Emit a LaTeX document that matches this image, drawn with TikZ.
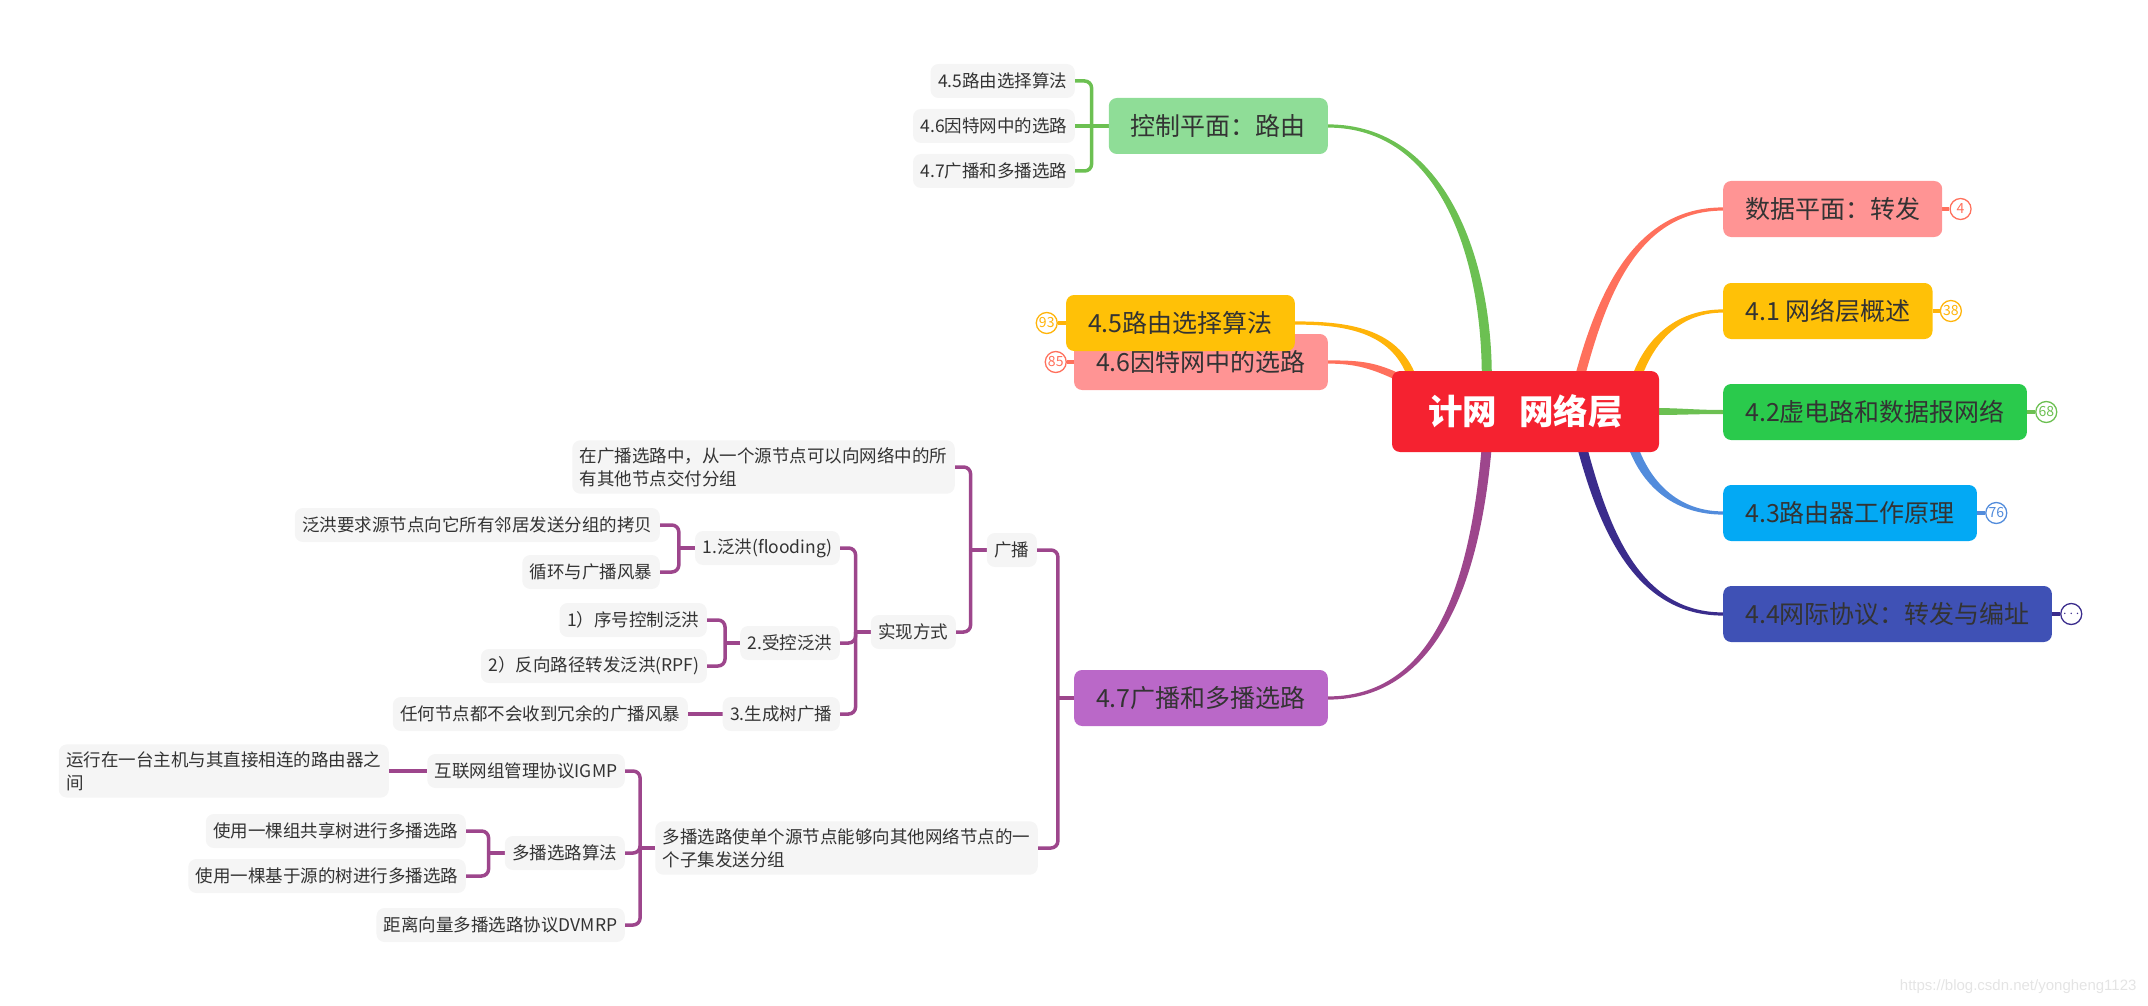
\documentclass[tikz,border=0pt]{standalone}
\usepackage{fontspec}
\setmainfont{Noto Sans CJK SC}
\newfontfamily\wmfont{Liberation Sans}
\usetikzlibrary{positioning,calc}
\pgfdeclarelayer{bg}
\pgfsetlayers{bg,main}
\definecolor{hubred}{RGB}{245,34,48}
\definecolor{pinkfill}{RGB}{255,148,148}
\definecolor{amberfill}{RGB}{255,193,7}
\definecolor{grnfill}{RGB}{42,202,76}
\definecolor{skyfill}{RGB}{3,169,244}
\definecolor{indfill}{RGB}{63,81,181}
\definecolor{ctrlfill}{RGB}{143,221,151}
\definecolor{purfill}{RGB}{186,104,200}
\definecolor{subfill}{RGB}{245,245,245}
\definecolor{txt}{RGB}{51,51,51}
\definecolor{lsalmon}{RGB}{255,112,92}
\definecolor{lamber}{RGB}{255,180,10}
\definecolor{lgreen}{RGB}{108,192,82}
\definecolor{lblue}{RGB}{82,140,220}
\definecolor{lindigo}{RGB}{58,44,140}
\definecolor{lpurple}{RGB}{157,70,140}
\definecolor{wm}{RGB}{228,228,228}
\tikzset{x=1pt,y=1pt,
hub/.style={fill=hubred,rounded corners=8pt,minimum width=267pt,minimum height=81pt,
  text=white,font=\fontsize{34.5}{40}\selectfont\bfseries},
topic/.style={rounded corners=8pt,minimum height=56pt,inner xsep=22pt,text=txt,
  font=\fontsize{25}{30}\selectfont},
sub/.style={fill=subfill,rounded corners=8pt,minimum height=34pt,inner xsep=7.5pt,
  inner ysep=7pt,text=txt,align=left,font=\fontsize{17.5}{23}\selectfont},
badge/.style={circle,draw=#1,text=#1,fill=white,line width=1.3pt,minimum size=21pt,
  inner sep=0pt,font=\fontsize{14}{14}\selectfont},
stub/.style={line width=3.5pt},
brk/.style={line width=3.5pt,rounded corners=7pt},
ctl/.style={brk,draw=lgreen},
tree/.style={brk,draw=lpurple},
}
% tapered branch: colour, start, end, out, in, start offset, end offset
\newcommand\branch[7]{%
  \fill[#1] ($(#2)+(#6)$) to[out=#4,in=#5] ($(#3)+(#7)$)
    -- ($(#3)-(#7)$) to[out=#5,in=#4] ($(#2)-(#6)$) -- cycle;}

\begin{document}
\begin{tikzpicture}
\useasboundingbox (0,0) rectangle (2148,-1006);

% right side
\node[topic,fill=pinkfill,anchor=west] (data) at (1723,-209) {数据平面：转发};
\node[topic,fill=amberfill,anchor=west] (t41) at (1723,-311) {4.1 网络层概述};
\node[topic,fill=grnfill,anchor=west] (t42) at (1723,-412) {4.2虚电路和数据报网络};
\node[topic,fill=skyfill,anchor=west] (t43) at (1723,-513) {4.3路由器工作原理};
\node[topic,fill=indfill,anchor=west] (t44) at (1723,-614) {4.4网际协议：转发与编址};

\node[badge=lsalmon,right=7pt of data] (b4) {4};
\node[badge=lamber,right=7pt of t41] (b38) {38};
\node[badge=lgreen,right=8pt of t42] (b68) {68};
\node[badge=lblue,right=8pt of t43] (b76) {76};
\node[badge=lindigo,right=8pt of t44] (bmore) {$\cdots$};

% left side
\node[topic,fill=ctrlfill,anchor=east] (ctrl) at (1328,-126) {控制平面：路由};
\node[topic,fill=pinkfill,anchor=east] (t46) at (1328,-362) {4.6因特网中的选路};
\node[topic,fill=amberfill,anchor=east] (t45) at (1295,-323) {4.5路由选择算法};
\node[topic,fill=purfill,anchor=east] (t47) at (1328,-698) {4.7广播和多播选路};

\node[badge=lamber,left=8pt of t45] (b93) {93};
\node[badge=lsalmon,left=7pt of t46] (b85) {85};

\node[sub,anchor=east] (c1) at (1075,-81) {4.5路由选择算法};
\node[sub,anchor=east] (c2) at (1075,-126) {4.6因特网中的选路};
\node[sub,anchor=east] (c3) at (1075,-171) {4.7广播和多播选路};

% broadcast / multicast tree
\node[sub,anchor=east] (bc) at (1037,-550) {广播};
\node[sub,anchor=east] (mc) at (1038,-848) {多播选路使单个源节点能够向其他网络节点的一\\个子集发送分组};
\node[sub,anchor=east] (bd) at (955,-467) {在广播选路中，从一个源节点可以向网络中的所\\有其他节点交付分组};
\node[sub,anchor=east] (im) at (956,-632) {实现方式};
\node[sub,anchor=east] (f1) at (840,-548) {1.泛洪(flooding)};
\node[sub,anchor=east] (f2) at (840,-643) {2.受控泛洪};
\node[sub,anchor=east] (f3) at (840,-714) {3.生成树广播};
\node[sub,anchor=east] (fa) at (660,-525) {泛洪要求源节点向它所有邻居发送分组的拷贝};
\node[sub,anchor=east] (fb) at (660,-572) {循环与广播风暴};
\node[sub,anchor=east] (ca) at (707,-620) {1）序号控制泛洪};
\node[sub,anchor=east] (cb) at (707,-666) {2）反向路径转发泛洪(RPF)};
\node[sub,anchor=east] (sa) at (688,-714) {任何节点都不会收到冗余的广播风暴};
\node[sub,anchor=east] (mg) at (625,-771) {互联网组管理协议IGMP};
\node[sub,anchor=east] (ma) at (625,-853) {多播选路算法};
\node[sub,anchor=east] (md) at (625,-925) {距离向量多播选路协议DVMRP};
\node[sub,anchor=east] (mr) at (389,-771) {运行在一台主机与其直接相连的路由器之\\间};
\node[sub,anchor=east] (mu) at (466,-831) {使用一棵组共享树进行多播选路};
\node[sub,anchor=east] (mv) at (466,-876) {使用一棵基于源的树进行多播选路};

\node[hub] (hub) at (1525.5,-411.5) {计网\hspace{0.65em}网络层};

\node[font=\wmfont\fontsize{15}{15}\selectfont,text=wm,anchor=east] (mark) at (2140,-987)
  {https://blog.csdn.net/yongheng1123};

\begin{pgfonlayer}{bg}
% main branches
\branch{lgreen}{$(hub.north west)+(95,-6)$}{ctrl.east}{90}{0}{-5,0}{0,-1.6}
\branch{lamber}{$(hub.north west)+(20,-6)$}{t45.east}{110}{0}{-4.5,0}{0,-1.6}
\branch{lsalmon}{$(hub.north west)+(6,-6)$}{t46.east}{155}{0}{0,-4}{0,-1.6}
\branch{lsalmon}{$(hub.north west)+(188,-6)$}{data.west}{75}{180}{-5,0}{0,1.6}
\branch{lamber}{$(hub.north west)+(245,-6)$}{t41.west}{70}{180}{-5,0}{0,1.6}
\branch{lgreen}{$(hub.east)+(-6,0)$}{t42.west}{0}{180}{0,3.5}{0,2}
\branch{lblue}{$(hub.south west)+(241,6)$}{t43.west}{-70}{180}{5,0}{0,1.6}
\branch{lindigo}{$(hub.south west)+(190,6)$}{t44.west}{-75}{180}{5,0}{0,1.6}
\branch{lpurple}{$(hub.south west)+(95,6)$}{t47.east}{-95}{0}{5,0}{0,-1.6}

% badges
\draw[stub,lsalmon] (data.east) -- (b4.west);
\draw[stub,lamber] (t41.east) -- (b38.west);
\draw[stub,lgreen] (t42.east) -- (b68.west);
\draw[stub,lblue] (t43.east) -- (b76.west);
\draw[stub,lindigo] (t44.east) -- (bmore.west);
\draw[stub,lamber] (t45.west) -- (b93.east);
\draw[stub,lsalmon] (t46.west) -- (b85.east);

% brackets
\draw[ctl] (ctrl.west) -- ++(-17,0) coordinate (jc);
\draw[ctl] (jc) |- (c1.east);
\draw[ctl] (jc) |- (c3.east);
\draw[ctl] (jc) -- (c2.east);

\draw[tree] (t47.west) -- ++(-16,0) coordinate (j47);
\draw[tree] (j47) |- (bc.east);
\draw[tree] (j47) |- (mc.east);

\draw[tree] (bc.west) -- ++(-16,0) coordinate (jb);
\draw[tree] (jb) |- (bd.east);
\draw[tree] (jb) |- (im.east);

\draw[tree] (im.west) -- ++(-15,0) coordinate (ji);
\draw[tree] (ji) |- (f1.east);
\draw[tree] (ji) |- (f2.east);
\draw[tree] (ji) |- (f3.east);

\draw[tree] (f1.west) -- ++(-16,0) coordinate (jf);
\draw[tree] (jf) |- (fa.east);
\draw[tree] (jf) |- (fb.east);

\draw[tree] (f2.west) -- ++(-15,0) coordinate (jk);
\draw[tree] (jk) |- (ca.east);
\draw[tree] (jk) |- (cb.east);

\draw[tree] (f3.west) -- (sa.east);

\draw[tree] (mc.west) -- ++(-15,0) coordinate (jm);
\draw[tree] (jm) |- (mg.east);
\draw[tree] (jm) |- (ma.east);
\draw[tree] (jm) |- (md.east);

\draw[tree] (mg.west) -- (mr.east);

\draw[tree] (ma.west) -- ++(-16,0) coordinate (ja);
\draw[tree] (ja) |- (mu.east);
\draw[tree] (ja) |- (mv.east);
\end{pgfonlayer}
\end{tikzpicture}
\end{document}
